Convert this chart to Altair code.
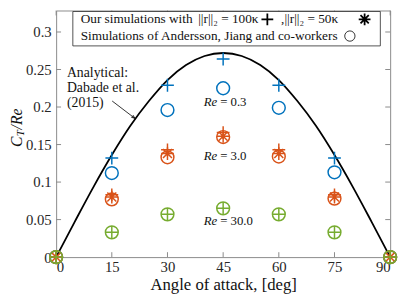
import altair as alt
import pandas as pd

# ---------------- data ----------------
angles = [0, 15, 30, 45, 60, 75, 90]
re03_ours = [0, 0.132, 0.229, 0.264, 0.229, 0.132, 0]
re03_ref = [0, 0.112, 0.196, 0.225, 0.199, 0.113, 0]
re3_ours100 = [0, 0.083, 0.143, 0.166, 0.143, 0.083, 0]
re3_ours50 = [0, 0.080, 0.138, 0.161, 0.138, 0.080, 0]
re3_ref = [0, 0.077, 0.133, 0.160, 0.134, 0.078, 0]
re30_ours = [0, 0.033, 0.057, 0.065, 0.057, 0.033, 0]
re30_ref = [0, 0.033, 0.057, 0.065, 0.057, 0.033, 0]

curve_deg = [0, 5, 10, 15, 20, 25, 30, 35, 40, 45, 50, 55, 60, 65, 70, 75, 80, 85, 90]
curve_val = [0, 0.047, 0.093, 0.136, 0.175, 0.208, 0.236, 0.256, 0.268, 0.272,
             0.268, 0.256, 0.236, 0.208, 0.175, 0.136, 0.093, 0.047, 0]

x_ticks = [0, 15, 30, 45, 60, 75, 90]
y_ticks = [0, 0.05, 0.1, 0.15, 0.2, 0.25, 0.3]

re_labels = ["= 0.3", "= 3.0", "= 30.0"]
re_label_y = [0.207, 0.134, 0.048]
re_label_x = [43.4, 43.4, 43.4]

arrow_x = [15.1, 21.2]
arrow_y = [0.208, 0.185]

BLUE = "#0072BD"
ORANGE = "#D95319"
GREEN = "#77AC30"
FONT = "Liberation Serif"
W, H = 340, 251

PLUS = "M-1,0L1,0M0,-1L0,1"
STAR = "M-1,0L1,0M0,-1L0,1M-0.7,-0.7L0.7,0.7M-0.7,0.7L0.7,-0.7"

xs = alt.Scale(domain=[0, 90], nice=False, zero=False)
ys = alt.Scale(domain=[0, 0.3286], nice=False, zero=False)

x_axis = alt.Axis(values=x_ticks, ticks=False, domain=False, grid=False,
                  labelFont=FONT, labelFontSize=15, labelColor="#262626",
                  labelPadding=3, title="Angle of attack, [deg]",
                  titleFont=FONT, titleFontSize=17, titleFontWeight="normal",
                  titleColor="#111111", titlePadding=2)
y_axis = alt.Axis(values=y_ticks, ticks=False, domain=False, grid=False,
                  labelFont=FONT, labelFontSize=15, labelColor="#262626",
                  labelPadding=5, format=".2~f", title=None)


def df(xv, yv):
    return pd.DataFrame({"a": xv, "v": yv})


def X():
    return alt.X("a:Q", scale=xs, axis=x_axis)


def Y():
    return alt.Y("v:Q", scale=ys, axis=y_axis)


curve = alt.Chart(df(curve_deg, curve_val)).mark_line(
    color="black", strokeWidth=1.8, interpolate="monotone"
).encode(x=X(), y=Y())


def pts(yv, shape, color, size=170):
    return alt.Chart(df(angles, yv)).mark_point(
        shape=shape, filled=False, size=size, strokeWidth=1.5, color=color, opacity=1
    ).encode(x=X(), y=Y())


markers = [
    pts(re03_ref, "circle", BLUE),
    pts(re03_ours, PLUS, BLUE),
    pts(re3_ref, "circle", ORANGE),
    pts(re3_ours100, PLUS, ORANGE),
    pts(re3_ours50, STAR, ORANGE),
    pts(re30_ref, "circle", GREEN),
    pts(re30_ours, PLUS, GREEN),
]

# inner ticks (box style)
TICK = "#8a8a8a"
tx = pd.DataFrame({"a": x_ticks})
ty = pd.DataFrame({"v": y_ticks})
ticks = [
    alt.Chart(tx).mark_rule(color=TICK, strokeWidth=1).encode(x=X(), y=alt.value(H), y2=alt.value(H - 5)),
    alt.Chart(tx).mark_rule(color=TICK, strokeWidth=1).encode(x=X(), y=alt.value(0), y2=alt.value(5)),
    alt.Chart(ty).mark_rule(color=TICK, strokeWidth=1).encode(y=Y(), x=alt.value(0), x2=alt.value(5)),
    alt.Chart(ty).mark_rule(color=TICK, strokeWidth=1).encode(y=Y(), x=alt.value(W), x2=alt.value(W - 5)),
]

# Re labels
re_df = pd.DataFrame({"a": re_label_x, "v": re_label_y, "t": re_labels})
re_it = alt.Chart(re_df).mark_text(
    text="Re", font=FONT, fontSize=13, fontStyle="italic", align="right", baseline="middle", color="#111111"
).encode(x=X(), y=Y())
re_num = alt.Chart(re_df).mark_text(
    font=FONT, fontSize=13, align="left", baseline="middle", dx=3, color="#111111"
).encode(x=X(), y=Y(), text="t:N")

one = pd.DataFrame({"a": [0]})

# analytical annotation
ann = [
    alt.Chart(one).mark_text(
        text=t, font=FONT, fontSize=14, align="left", baseline="middle", color="#111111"
    ).encode(x=alt.value(11), y=alt.value(yy))
    for t, yy in [("Analytical:", 64), ("Dabade et al.", 79), ("(2015)", 94)]
]
arrow_line = alt.Chart(df(arrow_x, arrow_y)).mark_line(color="black", strokeWidth=0.8).encode(x=X(), y=Y())
arrow_head = alt.Chart(df(arrow_x[1:], arrow_y[1:])).mark_point(
    shape="M-1,-0.4L0,0L-1,0.4", filled=False, size=49, strokeWidth=0.8, color="black", angle=38, opacity=1
).encode(x=X(), y=Y())

# legend box
leg_box = alt.Chart(one).mark_rect(
    fill="white", stroke="#262626", strokeWidth=0.8
).encode(x=alt.value(17), x2=alt.value(330), y=alt.value(1), y2=alt.value(36))


def ltext(t, x, y, align="left", style="normal"):
    return alt.Chart(one).mark_text(
        text=t, font=FONT, fontSize=13.5, align=align, baseline="middle", color="#111111",
        fontStyle=style
    ).encode(x=alt.value(x), y=alt.value(y))


def lsym(shape, x, y, size=150, sw=1.8):
    return alt.Chart(one).mark_point(
        shape=shape, filled=False, size=size, strokeWidth=sw, color="black", opacity=1
    ).encode(x=alt.value(x), y=alt.value(y))


legend = [
    leg_box,
    ltext("Our simulations with", 25, 9),
    ltext("||r||\u2082 = 100\u03ba", 206, 9, align="right"),
    lsym(PLUS, 215, 9, size=144),
    ltext(",||r||\u2082 = 50\u03ba", 229, 9),
    lsym(STAR, 314, 9, size=144),
    ltext("Simulations of Andersson, Jiang and co-workers", 25, 26),
    lsym("circle", 299, 26, size=110, sw=0.8),
]

# y title: C_T / Re
ytitle = [
    alt.Chart(one).mark_text(text="C", font=FONT, fontSize=16, fontStyle="italic", angle=270,
                             align="left", baseline="middle", color="#111111").encode(
        x=alt.value(-40), y=alt.value(139)),
    alt.Chart(one).mark_text(text="T", font=FONT, fontSize=11, fontStyle="italic", angle=270,
                             align="left", baseline="middle", color="#111111").encode(
        x=alt.value(-36), y=alt.value(128)),
    alt.Chart(one).mark_text(text="/Re", font=FONT, fontSize=16, fontStyle="italic", angle=270,
                             align="left", baseline="middle", color="#111111").encode(
        x=alt.value(-40), y=alt.value(121)),
]

chart = alt.layer(
    curve, *ticks, *markers, arrow_line, arrow_head, re_it, re_num, *ann, *legend, *ytitle
).properties(
    width=W, height=H,
    autosize=alt.AutoSizeParams(type="none"),
    padding={"left": 49, "top": 0, "right": 9, "bottom": 36},
).configure_view(stroke="#8a8a8a", strokeWidth=1)

chart.save("out.html", embed_options={"renderer": "svg", "actions": False})
